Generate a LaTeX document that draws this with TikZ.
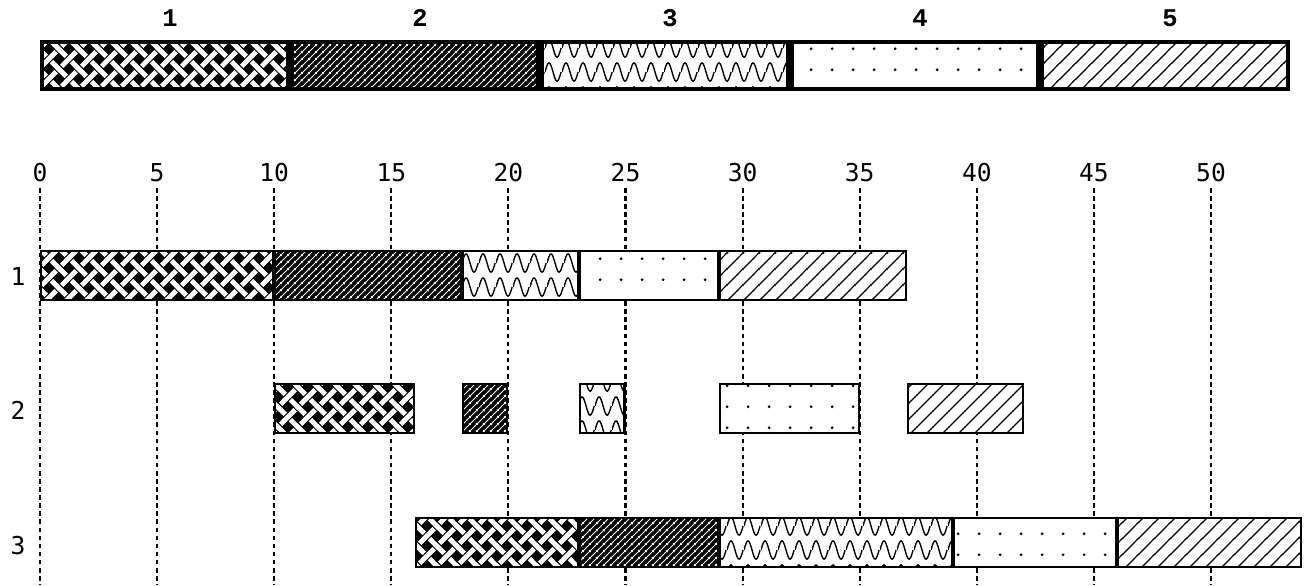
\documentclass[tikz,border=0pt]{standalone}
\usepackage{fontspec}
\newfontfamily\axisfont{DejaVu Sans Mono}
\newfontfamily\legfont{Liberation Mono}
\usetikzlibrary{patterns}
% fill patterns of the five jobs
\pgfdeclarepatternformonly{weave}{\pgfpointorigin}{\pgfqpoint{11.3pt}{11.3pt}}{\pgfqpoint{11.3pt}{11.3pt}}{%
  \pgfsetlinewidth{2.8pt}%
  \pgfpathmoveto{\pgfqpoint{1.5pt}{1.5pt}}\pgfpathlineto{\pgfqpoint{9.8pt}{9.8pt}}%
  \pgfpathmoveto{\pgfqpoint{-1pt}{12.3pt}}\pgfpathlineto{\pgfqpoint{4.15pt}{7.15pt}}%
  \pgfpathmoveto{\pgfqpoint{7.15pt}{4.15pt}}\pgfpathlineto{\pgfqpoint{12.3pt}{-1pt}}%
  \pgfpathmoveto{\pgfqpoint{-2pt}{2pt}}\pgfpathlineto{\pgfqpoint{2pt}{-2pt}}%
  \pgfpathmoveto{\pgfqpoint{9.3pt}{13.3pt}}\pgfpathlineto{\pgfqpoint{13.3pt}{9.3pt}}%
  \pgfusepath{stroke}}
\pgfdeclarepatternformonly{denselines}{\pgfpointorigin}{\pgfqpoint{4pt}{4pt}}{\pgfqpoint{4pt}{4pt}}{%
  \pgfsetlinewidth{0.6pt}%
  \pgfpathmoveto{\pgfqpoint{-0.5pt}{-0.5pt}}\pgfpathlineto{\pgfqpoint{4.5pt}{4.5pt}}%
  \pgfpathmoveto{\pgfqpoint{-0.5pt}{3.5pt}}\pgfpathlineto{\pgfqpoint{0.5pt}{4.5pt}}%
  \pgfpathmoveto{\pgfqpoint{3.5pt}{-0.5pt}}\pgfpathlineto{\pgfqpoint{4.5pt}{0.5pt}}%
  \pgfusepath{stroke}}
\pgfdeclarepatternformonly{waves}{\pgfpointorigin}{\pgfqpoint{9.4pt}{13.6pt}}{\pgfqpoint{9.4pt}{13.6pt}}{%
  \pgfsetlinewidth{0.8pt}%
  \pgfpathmoveto{\pgfqpoint{0pt}{6.8pt}}%
  \pgfpathsine{\pgfqpoint{2.35pt}{5.2pt}}\pgfpathcosine{\pgfqpoint{2.35pt}{-5.2pt}}%
  \pgfpathsine{\pgfqpoint{2.35pt}{-5.2pt}}\pgfpathcosine{\pgfqpoint{2.35pt}{5.2pt}}%
  \pgfusepath{stroke}}
\pgfdeclarepatternformonly{sparsedots}{\pgfpointorigin}{\pgfqpoint{12pt}{12pt}}{\pgfqpoint{12pt}{12pt}}{%
  \pgfpathcircle{\pgfqpoint{6pt}{6pt}}{0.9pt}%
  \pgfusepath{fill}}
\pgfdeclarepatternformonly{sparselines}{\pgfpointorigin}{\pgfqpoint{9pt}{9pt}}{\pgfqpoint{9pt}{9pt}}{%
  \pgfsetlinewidth{0.7pt}%
  \pgfpathmoveto{\pgfqpoint{-0.5pt}{-0.5pt}}\pgfpathlineto{\pgfqpoint{9.5pt}{9.5pt}}%
  \pgfpathmoveto{\pgfqpoint{-0.5pt}{8.5pt}}\pgfpathlineto{\pgfqpoint{0.5pt}{9.5pt}}%
  \pgfpathmoveto{\pgfqpoint{8.5pt}{-0.5pt}}\pgfpathlineto{\pgfqpoint{9.5pt}{0.5pt}}%
  \pgfusepath{stroke}}
\tikzset{
  j1/.style={preaction={fill=black},pattern=weave,pattern color=white},
  j2/.style={preaction={fill=black},pattern=denselines,pattern color=white},
  j3/.style={preaction={fill=white},pattern=waves,pattern color=black},
  j4/.style={preaction={fill=white},pattern=sparsedots,pattern color=black},
  j5/.style={preaction={fill=white},pattern=sparselines,pattern color=black},
  gline/.style={line width=1.2pt,dash pattern=on 2.6pt off 2pt},
  bar/.style={draw,line width=2.27pt},
  box/.style={draw,line width=1.2pt},
  axlab/.style={font=\axisfont\fontsize{14}{16}\selectfont,inner sep=0pt},
  leglab/.style={font=\legfont\bfseries\fontsize{14.5}{16}\selectfont,inner sep=0pt}
}
\newcommand{\jobbox}[4]{\path[box,j#4] ({#2+0.043},{#1+1}) rectangle ({#3-0.043},{#1+50});}

\begin{document}
\begin{tikzpicture}[x=0.4684cm,y=-0.02cm]
\useasboundingbox (-1.708,0) rectangle (53.97,585);
% legend bar
\foreach \k in {1,...,5}{
 \path[bar,j\k] ({(\k-1)*10.675+0.085},42) rectangle ({\k*10.675-0.085},89);
 \node[leglab] (leg\k) at ({(\k-1)*10.675+5.55},18) {\k};}
% time axis
\foreach \t in {0,5,...,50}{
 \node[axlab] (tick\t) at (\t,173) {\t};
 \draw[gline] (\t,188) -- (\t,585);}
\foreach \r/\y in {1/276,2/410,3/545}
 \node[axlab] (row\r) at (-0.94,\y) {\r};
% rows
\foreach \a/\b/\j in {0/10/1,10/18/2,18/23/3,23/29/4,29/37/5}
 {\jobbox{250}{\a}{\b}{\j}}
\foreach \a/\b/\j in {10/16/1,18/20/2,23/25/3,29/35/4,37/42/5}
 {\jobbox{383}{\a}{\b}{\j}}
\foreach \a/\b/\j in {16/23/1,23/29/2,29/39/3,39/46/4,46/53.9/5}
 {\jobbox{517}{\a}{\b}{\j}}
\end{tikzpicture}
\end{document}
